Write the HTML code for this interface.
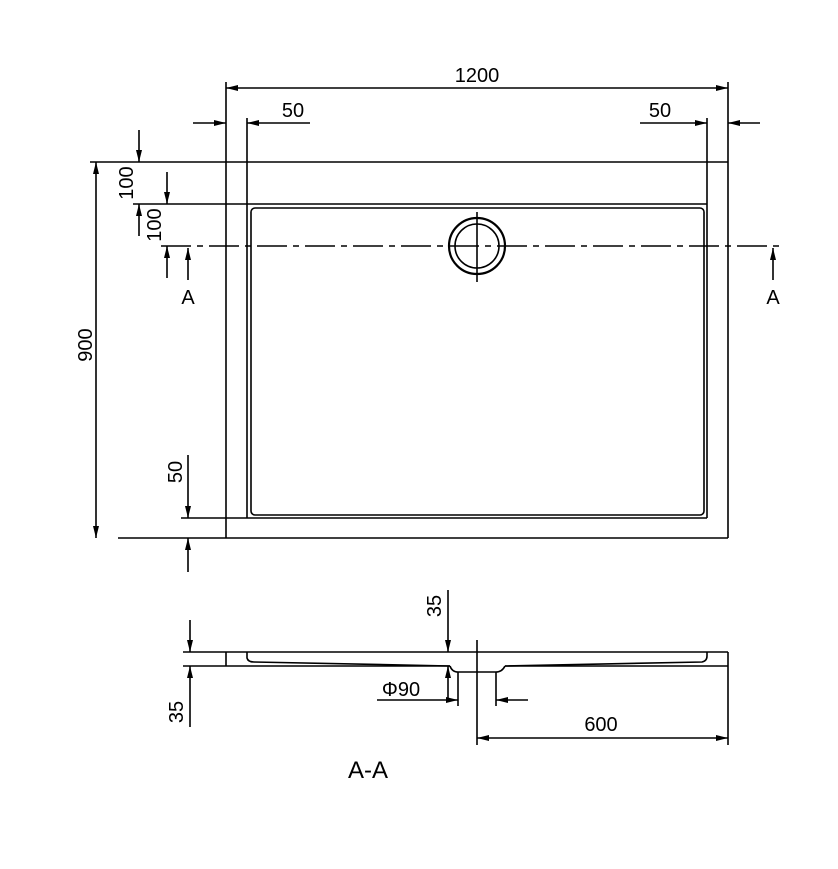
<!DOCTYPE html>
<html><head><style>body{margin:0;background:#fff}svg{display:block}</style></head><body>
<svg width="838" height="869" viewBox="0 0 838 869" xmlns="http://www.w3.org/2000/svg" font-family="'Liberation Sans', sans-serif">
<defs>
<marker id="a" viewBox="0 0 12 6" refX="12" refY="3" markerWidth="12" markerHeight="6" orient="auto-start-reverse" markerUnits="userSpaceOnUse"><path d="M0,0 L12,3 L0,6 z" fill="#000"/></marker>
</defs>
<g stroke="#000" stroke-width="1.6" fill="none">
<line x1="90" y1="162" x2="728" y2="162"/>
<line x1="133" y1="204" x2="707" y2="204"/>
<line x1="118" y1="538" x2="728" y2="538"/>
<line x1="181" y1="518" x2="707" y2="518"/>
<line x1="226" y1="82" x2="226" y2="538"/>
<line x1="247" y1="118" x2="247" y2="518"/>
<line x1="707" y1="118" x2="707" y2="518"/>
<line x1="728" y1="82" x2="728" y2="538"/>
<rect x="251" y="208" width="453" height="307" rx="4"/>
<line x1="161" y1="246" x2="783" y2="246" stroke-dasharray="30,6,6,6"/>
<circle cx="477" cy="246" r="28" stroke-width="2.2"/>
<circle cx="477" cy="246" r="22"/>
<line x1="477" y1="212" x2="477" y2="282"/>
<line x1="226" y1="88" x2="728" y2="88" marker-start="url(#a)" marker-end="url(#a)"/>
<line x1="193" y1="123" x2="226" y2="123" marker-end="url(#a)"/>
<line x1="310" y1="123" x2="247" y2="123" marker-end="url(#a)"/>
<line x1="640" y1="123" x2="707" y2="123" marker-end="url(#a)"/>
<line x1="760" y1="123" x2="728" y2="123" marker-end="url(#a)"/>
<line x1="139" y1="130" x2="139" y2="162" marker-end="url(#a)"/>
<line x1="139" y1="236" x2="139" y2="204" marker-end="url(#a)"/>
<line x1="167" y1="172" x2="167" y2="204" marker-end="url(#a)"/>
<line x1="167" y1="278" x2="167" y2="246" marker-end="url(#a)"/>
<line x1="96" y1="162" x2="96" y2="538" marker-start="url(#a)" marker-end="url(#a)"/>
<line x1="188" y1="280" x2="188" y2="248" marker-end="url(#a)"/>
<line x1="773" y1="280" x2="773" y2="248" marker-end="url(#a)"/>
<line x1="188" y1="455" x2="188" y2="518" marker-end="url(#a)"/>
<line x1="188" y1="572" x2="188" y2="538" marker-end="url(#a)"/>
<line x1="183" y1="652" x2="728" y2="652"/>
<line x1="183" y1="666" x2="450" y2="666"/>
<line x1="505" y1="666" x2="728" y2="666"/>
<line x1="226" y1="652" x2="226" y2="666"/>
<path d="M247,652 L247,658 Q248,662 254,662 L450,666"/>
<path d="M505,666 L702,662 Q707,661 707,656 L707,652"/>
<path d="M450,666 Q452,672 458,672 L496,672 Q502,672 505,666"/>
<line x1="458" y1="672" x2="458" y2="706"/>
<line x1="496" y1="672" x2="496" y2="706"/>
<line x1="477" y1="640" x2="477" y2="745"/>
<line x1="728" y1="652" x2="728" y2="745"/>
<line x1="190" y1="620" x2="190" y2="652" marker-end="url(#a)"/>
<line x1="190" y1="727" x2="190" y2="666" marker-end="url(#a)"/>
<line x1="448" y1="590" x2="448" y2="652" marker-end="url(#a)"/>
<line x1="448" y1="700" x2="448" y2="666" marker-end="url(#a)"/>
<line x1="377" y1="700" x2="458" y2="700" marker-end="url(#a)"/>
<line x1="528" y1="700" x2="496" y2="700" marker-end="url(#a)"/>
<line x1="477" y1="738" x2="728" y2="738" marker-start="url(#a)" marker-end="url(#a)"/>
</g>
<g font-size="20" fill="#000" text-anchor="middle">
<text x="477" y="82">1200</text>
<text x="293" y="117">50</text>
<text x="660" y="117">50</text>
<text x="188" y="304">A</text>
<text x="773" y="304">A</text>
<text transform="translate(133,183) rotate(-90)">100</text>
<text transform="translate(161,225) rotate(-90)">100</text>
<text transform="translate(92,345) rotate(-90)">900</text>
<text transform="translate(182,472) rotate(-90)">50</text>
<text transform="translate(183,712) rotate(-90)">35</text>
<text transform="translate(441,606) rotate(-90)">35</text>
<text x="401" y="696">Φ90</text>
<text x="601" y="731">600</text>
<text x="368" y="778" font-size="24">A-A</text>
</g>
</svg>
</body></html>
